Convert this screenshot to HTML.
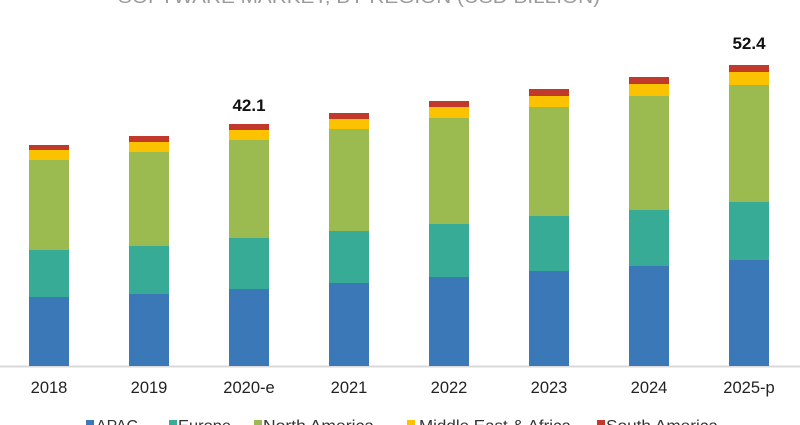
<!DOCTYPE html>
<html><head><meta charset="utf-8"><style>
html,body{margin:0;padding:0;background:#fff;width:800px;height:425px;overflow:hidden}
svg{display:block}
text{font-family:"Liberation Sans",Arial,sans-serif}
</style></head><body>
<svg width="800" height="425" viewBox="0 0 800 425" xmlns="http://www.w3.org/2000/svg">
<text x="118" y="3" font-size="18" fill="#9a9a9a" textLength="482" lengthAdjust="spacingAndGlyphs">SOFTWARE MARKET, BY REGION (USD BILLION)</text>
<line x1="0" y1="366.5" x2="800" y2="366.5" stroke="#d9d9d9" stroke-width="2"/>
<text x="249" y="111" text-anchor="middle" font-size="17" font-weight="bold" fill="#111">42.1</text>
<text x="749" y="49" text-anchor="middle" font-size="17" font-weight="bold" fill="#111">52.4</text>
<g font-size="16.5" fill="#222" text-anchor="middle">
<text x="49" y="393">2018</text><text x="149" y="393">2019</text><text x="249" y="393">2020-e</text>
<text x="349" y="393">2021</text><text x="449" y="393">2022</text><text x="549" y="393">2023</text>
<text x="649" y="393">2024</text><text x="749" y="393">2025-p</text>
</g>
<g font-size="16" fill="#333">
<rect x="86" y="420" width="8" height="8" fill="#3a78b8"/><text x="96" y="431" textLength="42" lengthAdjust="spacingAndGlyphs">APAC</text>
<rect x="169" y="420" width="8" height="8" fill="#38ab97"/><text x="178" y="431" textLength="53" lengthAdjust="spacingAndGlyphs">Europe</text>
<rect x="254" y="420" width="8" height="8" fill="#9bbb50"/><text x="263" y="431" textLength="111" lengthAdjust="spacingAndGlyphs">North America</text>
<rect x="407" y="420" width="8" height="8" fill="#fbc200"/><text x="419" y="431" textLength="152" lengthAdjust="spacingAndGlyphs">Middle East &amp; Africa</text>
<rect x="597" y="420" width="8" height="8" fill="#c0392b"/><text x="606" y="431" textLength="112" lengthAdjust="spacingAndGlyphs">South America</text>
</g>
<g>
<rect x="29" y="297" width="40" height="69" fill="#3a78b8"/><rect x="29" y="250" width="40" height="47" fill="#38ab97"/><rect x="29" y="160" width="40" height="90" fill="#9bbb50"/><rect x="29" y="150" width="40" height="10" fill="#fbc200"/><rect x="29" y="145" width="40" height="5" fill="#c0392b"/>
<rect x="129" y="294" width="40" height="72" fill="#3a78b8"/><rect x="129" y="246" width="40" height="48" fill="#38ab97"/><rect x="129" y="152" width="40" height="94" fill="#9bbb50"/><rect x="129" y="142" width="40" height="10" fill="#fbc200"/><rect x="129" y="136" width="40" height="6" fill="#c0392b"/>
<rect x="229" y="289" width="40" height="77" fill="#3a78b8"/><rect x="229" y="238" width="40" height="51" fill="#38ab97"/><rect x="229" y="140" width="40" height="98" fill="#9bbb50"/><rect x="229" y="130" width="40" height="10" fill="#fbc200"/><rect x="229" y="124" width="40" height="6" fill="#c0392b"/>
<rect x="329" y="283" width="40" height="83" fill="#3a78b8"/><rect x="329" y="231" width="40" height="52" fill="#38ab97"/><rect x="329" y="129" width="40" height="102" fill="#9bbb50"/><rect x="329" y="119" width="40" height="10" fill="#fbc200"/><rect x="329" y="113" width="40" height="6" fill="#c0392b"/>
<rect x="429" y="277" width="40" height="89" fill="#3a78b8"/><rect x="429" y="224" width="40" height="53" fill="#38ab97"/><rect x="429" y="118" width="40" height="106" fill="#9bbb50"/><rect x="429" y="107" width="40" height="11" fill="#fbc200"/><rect x="429" y="101" width="40" height="6" fill="#c0392b"/>
<rect x="529" y="271" width="40" height="95" fill="#3a78b8"/><rect x="529" y="216" width="40" height="55" fill="#38ab97"/><rect x="529" y="107" width="40" height="109" fill="#9bbb50"/><rect x="529" y="96" width="40" height="11" fill="#fbc200"/><rect x="529" y="89" width="40" height="7" fill="#c0392b"/>
<rect x="629" y="266" width="40" height="100" fill="#3a78b8"/><rect x="629" y="210" width="40" height="56" fill="#38ab97"/><rect x="629" y="96" width="40" height="114" fill="#9bbb50"/><rect x="629" y="84" width="40" height="12" fill="#fbc200"/><rect x="629" y="77" width="40" height="7" fill="#c0392b"/>
<rect x="729" y="260" width="40" height="106" fill="#3a78b8"/><rect x="729" y="202" width="40" height="58" fill="#38ab97"/><rect x="729" y="85" width="40" height="117" fill="#9bbb50"/><rect x="729" y="72" width="40" height="13" fill="#fbc200"/><rect x="729" y="65" width="40" height="7" fill="#c0392b"/>
</g>
</svg>
</body></html>
